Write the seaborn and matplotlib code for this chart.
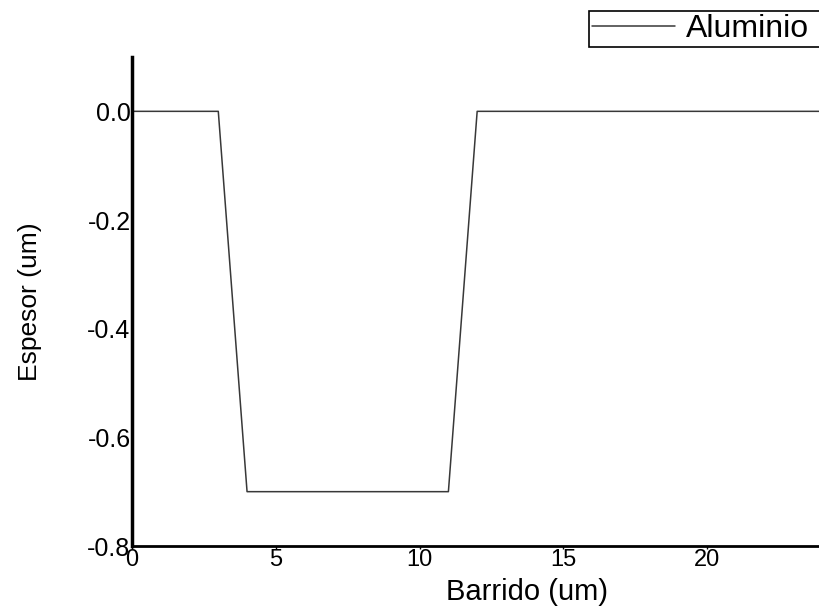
import numpy as np
import pandas as pd
import matplotlib
matplotlib.use("Agg")
import matplotlib.pyplot as plt
import seaborn as sns
from matplotlib.ticker import FormatStrFormatter

# perfil de espesor del aluminio
barrido = [0, 3, 4, 11, 12, 27.5]
espesor = [0.0, 0.0, -0.7, -0.7, 0.0, 0.0]
xticks = [0, 5, 10, 15, 20]
yticks = [-0.8, -0.6, -0.4, -0.2, 0.0]

df = pd.DataFrame({'Barrido (um)': barrido, 'Espesor (um)': espesor})

sns.set_style("ticks")
plt.rcParams['font.family'] = ['Liberation Sans', 'DejaVu Sans']
plt.rcParams['axes.unicode_minus'] = False
plt.rcParams['text.color'] = 'black'
plt.rcParams['axes.labelcolor'] = 'black'

fig = plt.figure(figsize=(8.2, 6.07), dpi=100)
ax = fig.add_axes([132/820, 1 - 546/607, (923 - 132)/820, (546 - 57)/607])

sns.lineplot(data=df, x='Barrido (um)', y='Espesor (um)', ax=ax,
             color='#383838', linewidth=1.1, label='Aluminio', sort=False)

ax.set_xlim(0, 27.5)
ax.set_ylim(-0.8, 0.1)
ax.set_xticks(xticks)
ax.set_yticks(yticks)
ax.yaxis.set_major_formatter(FormatStrFormatter('%.1f'))

for s in ['top', 'right']:
    ax.spines[s].set_visible(False)
ax.spines['left'].set_linewidth(2.5)
ax.spines['bottom'].set_linewidth(2)
ax.spines['left'].set_color('black')
ax.spines['bottom'].set_color('black')

ax.tick_params(axis='x', direction='out', length=2, width=1, pad=0,
               labelsize=17, colors='black')
ax.tick_params(axis='y', direction='out', length=0, pad=1,
               labelsize=18, colors='black')
ax.set_xlabel('Barrido (um)', fontsize=21, labelpad=5)
ax.set_ylabel('Espesor (um)', fontsize=19, labelpad=33)

leg = ax.legend(loc='upper left', bbox_to_anchor=(589/820, 1 - 12/607, 320/820, 0.001),
                bbox_transform=fig.transFigure, mode='expand', fontsize=23,
                frameon=True, fancybox=False, framealpha=1, edgecolor='black',
                borderpad=0.08, handlelength=2.6, handletextpad=0.35,
                borderaxespad=0)
leg.get_frame().set_linewidth(1.2)
for t in leg.get_texts():
    t.set_color('black')

fig.savefig('out.png', dpi=100)
